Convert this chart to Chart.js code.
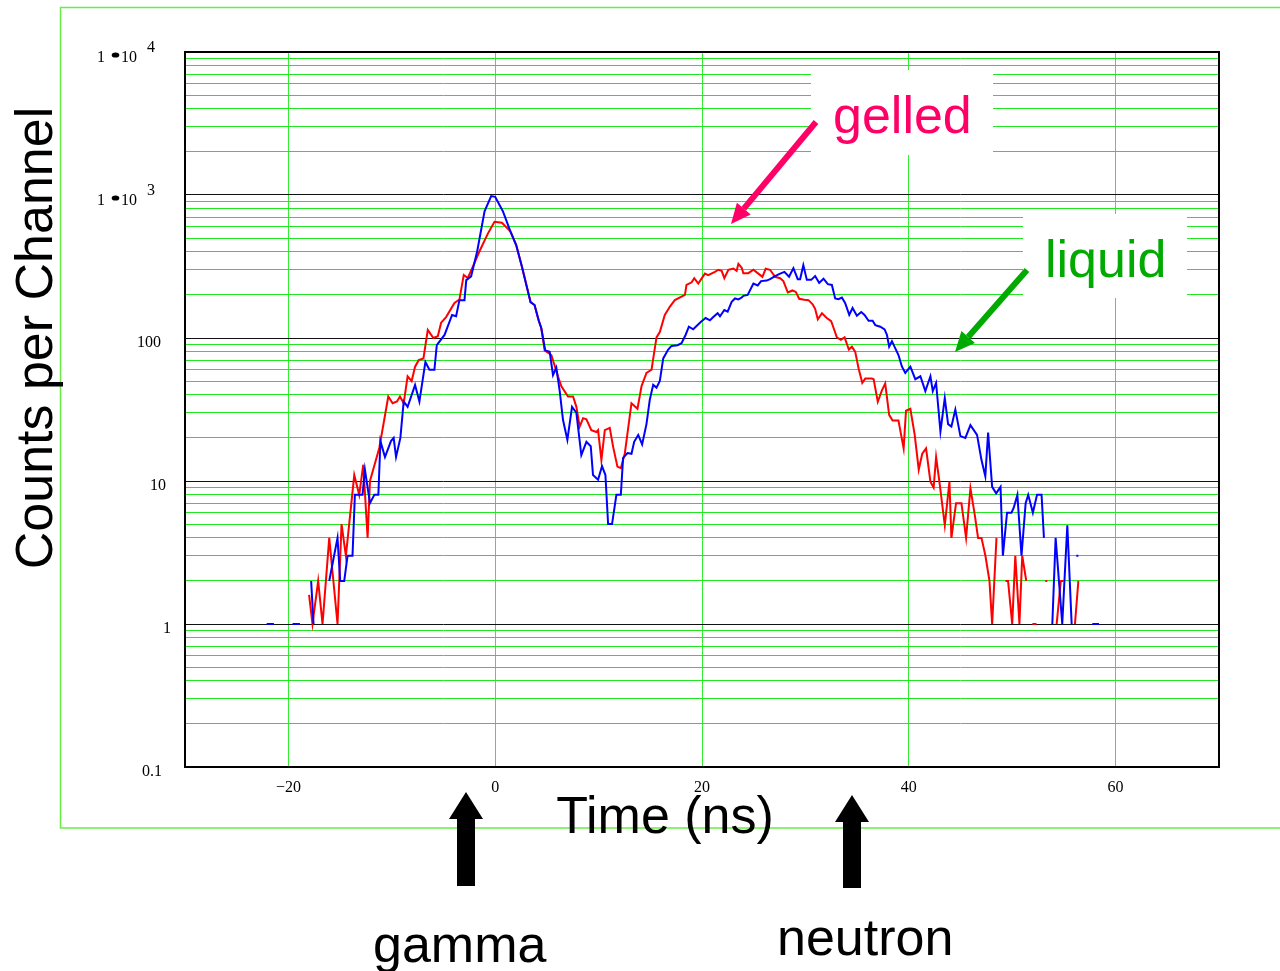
<!DOCTYPE html>
<html>
<head>
<meta charset="utf-8">
<title>Counts per Channel</title>
<script src="https://cdn.jsdelivr.net/npm/chart.js@4.4.0/dist/chart.umd.min.js"></script>
<style>
  body { margin: 0; background: #fff; }
  #wrap { position: relative; width: 1280px; height: 971px; }
</style>
</head>
<body>
<div id="wrap"><canvas id="myChart"></canvas></div>
<script>
// gelled sample (red) - time in ns, null = empty channel (gap)
var gelledTime = [-19.3, -18.9, -18.5, -18.0, -17.67, -17.12, -16.7, -16.05, -15.25, -14.86, -14.44, -13.63, -13.15, -12.76, -12.34, -12.11,
  -11.21, -10.34, -9.92, -9.5, -9.21, -8.85, -8.47, -8.08, -7.75, -7.4, -6.94, -6.52, -5.98, -5.55, -5.23, -4.75, -3.94, -3.46, -3.04,
  -2.65, -2.16, -1.52, -0.71, -0.07, 0.65, 1.23, 1.48, 2.03, 2.58, 3.42, 3.8, 4.2, 4.46, 4.78, 5.43, 6.07, 6.4, 7.04, 7.53, 7.85, 8.17,
  8.5, 8.82, 9.3, 9.79, 9.95, 10.27, 10.6, 11.08, 11.4, 11.82, 12.15, 12.53, 13.18, 13.76, 14.15, 14.63, 15.12, 15.6, 15.92, 16.4, 16.9,
  17.37, 18.35, 18.5, 19.0, 19.25, 19.64, 20.28, 20.6, 21.25, 21.58, 21.9, 22.16, 22.55, 23.03, 23.35, 23.52, 23.84, 24.0, 24.48, 24.97,
  25.45, 25.84, 26.16, 26.58, 27.07, 27.55, 27.87, 28.3, 28.75, 29.07, 29.4, 29.9, 30.3, 30.7, 30.94, 31.2, 31.6, 32.07, 32.49, 32.72,
  33.04, 33.43, 33.79, 34.2, 34.5, 34.82, 35.14, 35.5, 35.79, 36.43, 36.6, 37.0, 37.4, 37.72, 38.1, 38.43, 39.0, 39.5, 39.73, 40.15,
  40.57, 40.96, 41.3, 41.67, 42.09, 42.4, 42.64, 42.96, 43.48, 43.93, 44.12, 44.57, 45.09, 45.54, 45.96, 46.38, 46.7, 47.03, 47.41,
  47.8, 48.06, 48.48, 48.9, 49.35, 49.6, 50.0, 50.3, 50.7, 50.97, 51.36, 51.7, 51.95, 52.35, 52.8, 53.2, 53.4, 53.8, 54.3, 54.7, 54.95,
  55.5, 56.07, 56.4];
var gelledCounts = [1, 1, null, 1.6, 1, 2, 1, 4, 1, 5, 3, 11, 8, 13, 4, 10,
  17, 39, 35, 36, 39, 35, 54, 50, 63, 70, 72, 114, 100, 103, 128, 140, 176, 186, 276,
  263, 316, 404, 537, 650, 640, 580, 555, 447, 316, 178, 170, 133, 117, 82, 76, 54, 46, 39, 39, 33, 24,
  27.5, 27, 22.7, 22, 22.7, 14, 22.7, 23.5, 17.4, 12.6, 12.3, 15.5, 35, 32, 46, 57, 60, 101, 110, 145, 166,
  184, 200, 235, 245, 262, 240, 282, 275, 290, 300, 295, 262, 300, 306, 295, 330, 310, 284, 284, 300,
  282, 268, 305, 300, 268, 262, 250, 208, 215, 210, 188, 185, 184, 172, 160, 135, 149, 138, 131, 118,
  101, 97, 101, 83, 87, 80, 61.5, 48.5, 52, 52, 51.5, 35.8, 43, 48, 29, 26.5, 26.5, 16.9, 31, 32,
  21, 12, 15.5, 16.9, 9.9, 9, 14.7, 9.9, 4.9, 9.9, 4, 7, 7, 4, 8.9, 5.8, 4, 4, 3,
  2, 1, 4, null, 2, 2, 1, 3, 1, 3, 2, null, 1, 1, null, 2, 2, null, 1, 2, 2,
  null, 1, 2];

// liquid sample (blue)
var liquidTime = [-22.1, -21.4, -20.5, -19.6, -18.9, -18.3, -17.8, -17.57, -16.8, -16.05, -15.25, -14.99, -14.6, -14.28, -13.8, -13.57,
  -12.83, -12.6, -12.11, -11.69, -11.3, -11.1, -10.66, -10.08, -9.82, -9.59, -9.17, -8.85, -8.47, -7.75, -7.33, -6.75, -6.36, -5.88,
  -5.65, -4.9, -4.17, -3.78, -3.46, -2.97, -2.8, -2.33, -1.74, -1.03, -0.39, 0.0, 0.74, 1.48, 2.03, 2.58, 3.42, 3.81, 4.2, 4.46, 4.84,
  5.27, 5.59, 5.91, 6.23, 6.56, 6.98, 7.43, 7.85, 8.33, 8.82, 9.24, 9.46, 9.95, 10.33, 10.66, 10.92, 11.3, 11.72, 12.15, 12.37, 12.79,
  13.18, 13.44, 13.83, 14.21, 14.63, 14.95, 15.28, 15.6, 15.92, 16.25, 16.73, 17.05, 17.64, 18.02, 18.41, 18.73, 19.15, 19.9, 20.35,
  20.77, 21.09, 21.51, 21.74, 22.16, 22.48, 22.87, 23.19, 23.52, 23.84, 24.0, 24.42, 24.97, 25.39, 25.71, 26.26, 26.58, 27.07, 27.45,
  27.97, 28.42, 28.84, 29.26, 29.49, 29.8, 30.14, 30.56, 30.94, 31.33, 31.75, 32.17, 32.56, 32.88, 33.2, 33.53, 33.85, 34.24, 34.56,
  34.98, 35.4, 35.72, 36.11, 36.5, 36.76, 37.24, 37.66, 37.89, 38.1, 38.37, 39.0, 39.34, 39.66, 40.15, 40.63, 41.12, 41.6, 42.09, 42.32,
  42.64, 43.06, 43.48, 43.8, 44.12, 44.5, 44.99, 45.47, 45.96, 46.6, 47.03, 47.4, 47.67, 48.06, 48.45, 48.87, 49.1, 49.5, 49.93, 50.15,
  50.5, 50.9, 51.3, 51.55, 52.0, 52.4, 52.84, 53.07, 53.5, 53.88, 54.2, 54.84, 55.33, 55.75, 56.0, 56.2, 56.4, 57.0, 57.75, 58.4];
var liquidCounts = [1, 1, null, 1, 1, null, 2, 1, null, 2, 4, 2, 2, 3, 3, 8,
  8, 12, 7, 8, 8, 19, 14.7, 19, 20, 14.7, 20, 36, 33, 47, 36, 68, 60, 60,
  89, 105, 145, 142, 184, 184, 254, 270, 404, 769, 983, 970, 770, 555, 447, 316, 178, 170, 133, 117, 82,
  80, 55, 62, 43, 26.7, 19.4, 33, 30, 15.2, 18.8, 17.5, 11, 10.2, 12.7, 11, 5, 5, 8, 8, 14.5, 15.7,
  15.5, 18.8, 21, 18, 25, 37, 47, 45, 50, 72, 83, 88, 89, 92, 105, 120, 115, 130, 138,
  133, 140, 149, 142, 157, 153, 179, 189, 186, 192, 197, 200, 240, 233, 250, 252, 258, 271, 280,
  290, 268, 308, 258, 258, 323, 255, 255, 271, 243, 260, 238, 235, 189, 187, 192, 175, 145, 162,
  143, 152, 145, 132, 132, 123, 120, 115, 105, 87, 95, 76, 63, 57, 63, 51.5, 54, 42.5, 54, 42.5,
  48.5, 22.2, 38, 25, 24, 31.6, 20.6, 20, 24.6, 21, 14, 10.8, 21.8, 9.1, 8.2, 9.1, 3, 6, 6, 6.5,
  8, 3, 7, 8, 6, 8, 8, 4, null, 1, 4, 1, 4.9, 1, null, 3, 3, null, 1, 1];

var xTicks = [-20, 0, 20, 40, 60];
var yDecades = [0.1, 1, 10, 100, 1000, 10000];
var yLabelMain = ['0.1', '1', '10', '100', '10', '10'];
var yLabelExp = ['', '', '', '', '3', '4'];

function toPoints(times, counts) {
  var pts = [];
  for (var i = 0; i < times.length; i++) {
    pts.push({ x: times[i], y: counts[i] });
  }
  return pts;
}

function isDecade(v) {
  var l = Math.log10(v);
  return Math.abs(l - Math.round(l)) < 1e-6;
}

var yGrid = [];
for (var d = 0; d < yDecades.length; d++) {
  yGrid.push(yDecades[d]);
  if (d < yDecades.length - 1) {
    for (var k = 2; k <= 9; k++) yGrid.push(yDecades[d] * k);
  }
}

function lineArrow(c, x1, y1, x2, y2, color, w, headLen, headW) {
  var ang = Math.atan2(y2 - y1, x2 - x1);
  var bx = x2 - headLen * Math.cos(ang), by = y2 - headLen * Math.sin(ang);
  c.strokeStyle = color; c.lineWidth = w; c.lineCap = 'butt';
  c.beginPath(); c.moveTo(x1, y1); c.lineTo(bx, by); c.stroke();
  c.fillStyle = color;
  c.beginPath(); c.moveTo(x2, y2);
  c.lineTo(bx + headW * Math.sin(ang), by - headW * Math.cos(ang));
  c.lineTo(bx - headW * Math.sin(ang), by + headW * Math.cos(ang));
  c.closePath(); c.fill();
}

function blockArrow(c, x, tipY, baseY, bottomY, headHalf, shaftHalf) {
  c.fillStyle = '#000';
  c.beginPath();
  c.moveTo(x, tipY);
  c.lineTo(x + headHalf, baseY);
  c.lineTo(x + shaftHalf, baseY);
  c.lineTo(x + shaftHalf, bottomY);
  c.lineTo(x - shaftHalf, bottomY);
  c.lineTo(x - shaftHalf, baseY);
  c.lineTo(x - headHalf, baseY);
  c.closePath();
  c.fill();
}

var decorations = {
  id: 'decorations',
  beforeDraw: function (chart) {
    var c = chart.ctx;
    c.save();
    c.fillStyle = '#fff';
    c.fillRect(0, 0, chart.width, chart.height);
    c.strokeStyle = '#66ee44';
    c.lineWidth = 1.5;
    c.strokeRect(60.5, 7.5, 1300, 820.5);
    c.restore();
  },
  afterDraw: function (chart) {
    var c = chart.ctx;
    var a = chart.chartArea;
    var ys = chart.scales.y;
    c.save();

    // plot frame
    c.strokeStyle = '#000';
    c.lineWidth = 2;
    c.strokeRect(a.left, a.top, a.right - a.left, a.bottom - a.top);

    // y tick labels
    var labelLeft = [142, 163, 150, 137, 97, 97];
    c.fillStyle = '#000';
    c.font = '16px "Liberation Serif", "Times New Roman", serif';
    c.textBaseline = 'alphabetic';
    c.textAlign = 'left';
    for (var i = 0; i < yDecades.length; i++) {
      var py = ys.getPixelForValue(yDecades[i]);
      var lx = labelLeft[i];
      if (yLabelExp[i]) {
        c.fillText('1', lx, py + 10);
        c.beginPath();
        c.ellipse(lx + 18.5, py + 3, 3.8, 2.6, 0, 0, Math.PI * 2);
        c.fill();
        c.fillText(yLabelMain[i], lx + 24, py + 10);
        c.fillText(yLabelExp[i], lx + 50, py);
      } else {
        c.fillText(yLabelMain[i], lx, py + 9);
      }
    }

    // annotation boxes
    c.fillStyle = '#fff';
    c.fillRect(811, 70, 182, 85);
    c.fillRect(1023, 214, 164, 84);

    c.font = '52px "Liberation Sans", Arial, sans-serif';
    c.fillStyle = '#ff0066';
    c.fillText('gelled', 833, 133);
    lineArrow(c, 816, 122, 731, 224, '#ff0066', 6, 20, 9);

    c.fillStyle = '#00aa00';
    c.fillText('liquid', 1045, 277);
    lineArrow(c, 1027, 270, 955, 352, '#00aa00', 6, 20, 9);

    // axis titles and markers
    c.fillStyle = '#000';
    c.textAlign = 'center';
    c.fillText('Time (ns)', 665, 833);
    c.textAlign = 'left';
    c.fillText('gamma', 373, 962);
    c.fillText('neutron', 777, 955);

    blockArrow(c, 466, 792, 819, 886, 17, 9);
    blockArrow(c, 852, 795, 822, 888, 17, 9);

    c.save();
    c.translate(52, 338);
    c.rotate(-Math.PI / 2);
    c.textAlign = 'center';
    c.fillText('Counts per Channel', 0, 0);
    c.restore();

    c.restore();
  }
};

var ctx = document.getElementById('myChart').getContext('2d');
var myChart = new Chart(ctx, {
  type: 'line',
  data: {
    datasets: [
      {
        label: 'liquid',
        data: toPoints(liquidTime, liquidCounts),
        borderColor: '#0000ff',
        borderWidth: 2,
        pointRadius: 0,
        tension: 0,
        spanGaps: false
      },
      {
        label: 'gelled',
        data: toPoints(gelledTime, gelledCounts),
        borderColor: '#ff0000',
        borderWidth: 2,
        pointRadius: 0,
        tension: 0,
        spanGaps: false
      }
    ]
  },
  options: {
    responsive: true,
    maintainAspectRatio: false,
    animation: false,
    events: [],
    layout: { padding: { left: 0, right: 61, top: 52, bottom: 0 } },
    plugins: {
      legend: { display: false },
      tooltip: { enabled: false },
      title: { display: false }
    },
    scales: {
      x: {
        type: 'linear',
        min: -30,
        max: 70,
        afterBuildTicks: function (scale) {
          scale.ticks = xTicks.map(function (v) { return { value: v }; });
        },
        afterFit: function (scale) { scale.height = 204; },
        grid: { color: '#33ee33', lineWidth: 1, drawTicks: false },
        border: { display: false },
        ticks: {
          padding: 11,
          color: '#000',
          font: { family: '"Liberation Serif", "Times New Roman", serif', size: 16 },
          maxRotation: 0,
          autoSkip: false,
          callback: function (v) { return v < 0 ? '\u2212' + Math.abs(v) : String(v); }
        }
      },
      y: {
        type: 'logarithmic',
        min: 0.1,
        max: 10000,
        afterBuildTicks: function (scale) {
          scale.ticks = yGrid.map(function (v) { return { value: v }; });
        },
        afterFit: function (scale) { scale.width = 185; },
        grid: {
          drawTicks: false,
          lineWidth: 1,
          color: function (ctx) {
            if (ctx.tick && isDecade(ctx.tick.value)) return '#111';
            return '#22e622';
          }
        },
        border: { display: false },
        ticks: { display: false }
      }
    }
  },
  plugins: [decorations]
});
</script>
</body>
</html>
